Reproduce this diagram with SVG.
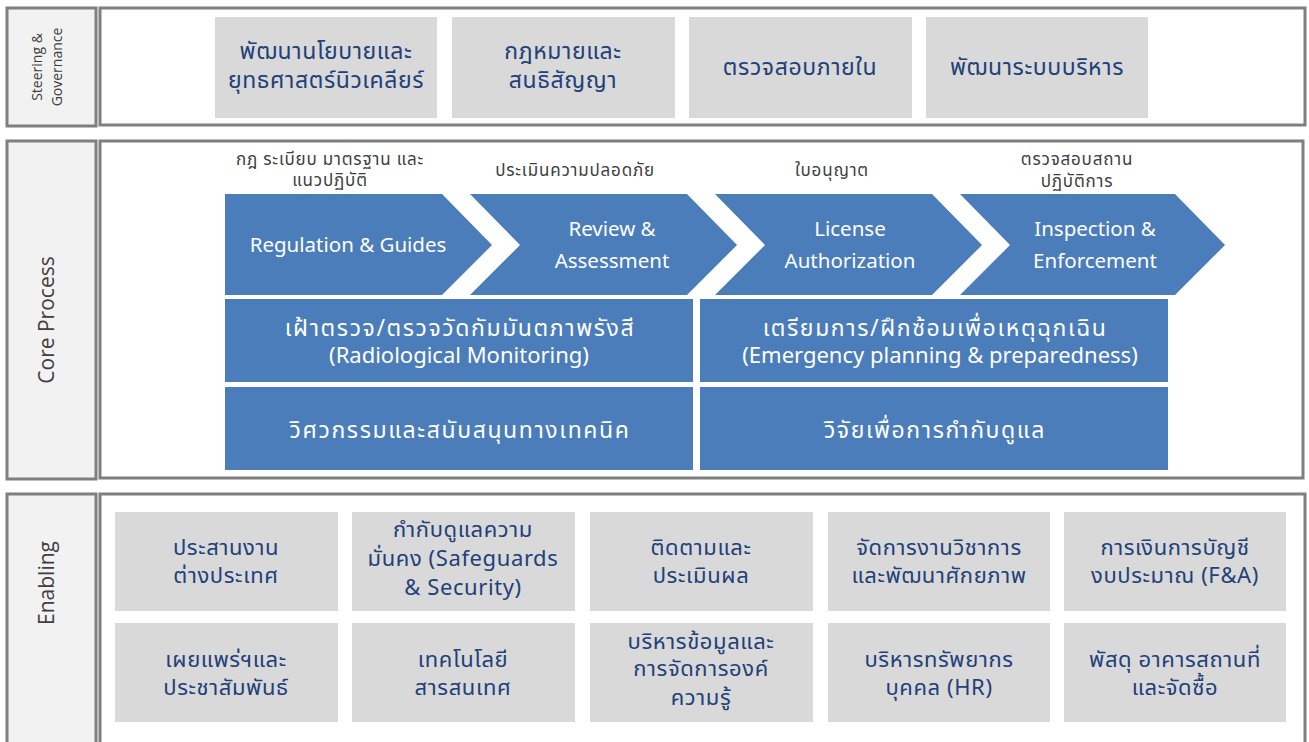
<svg xmlns="http://www.w3.org/2000/svg" width="1309" height="742" viewBox="0 0 1309 742">
<style>
.lbl{fill:#f2f2f2;stroke:#7f7f7f;stroke-width:3}
.pane{fill:#ffffff;stroke:#7f7f7f;stroke-width:3}
.gray{fill:#d9d9d9}
.blue{fill:#4a7dba}
.side{font-family:"Open Sans","Noto Sans",sans-serif;fill:#404040;text-anchor:middle}
.gt{font-family:"Noto Sans Thai","Noto Sans","DejaVu Sans",sans-serif;font-size:23px;letter-spacing:0.6px;fill:#22407a;text-anchor:middle}
.et{font-family:"Noto Sans Thai","Noto Sans","DejaVu Sans",sans-serif;font-size:22px;letter-spacing:0.6px;fill:#22407a;text-anchor:middle}
.cap{font-family:"Noto Sans Thai","Noto Sans","DejaVu Sans",sans-serif;font-size:17px;letter-spacing:0.8px;fill:#404040;text-anchor:middle}
.wt{font-family:"Noto Sans","Noto Sans Thai",sans-serif;font-size:20.5px;fill:#ffffff;text-anchor:middle}
.bt{font-family:"Noto Sans","Noto Sans Thai",sans-serif;font-size:22px;fill:#ffffff;text-anchor:middle}
.btt{font-family:"Noto Sans Thai","Noto Sans",sans-serif;font-size:23px;letter-spacing:1.6px;fill:#ffffff;text-anchor:middle}
</style>

<g id="steering">
<rect class="lbl" x="7" y="8" width="89" height="118"/>
<rect class="pane" x="100" y="8" width="1205" height="117"/>
<text class="side" font-size="14" transform="translate(42,67) rotate(-90)">Steering &amp;</text>
<text class="side" font-size="14" transform="translate(62,67) rotate(-90)">Governance</text>
</g>
<g id="g1"><rect class="gray" x="215" y="17" width="222" height="101"/>
<text class="gt" x="326" y="59">พัฒนานโยบายและ</text><text class="gt" x="326" y="88">ยุทธศาสตร์นิวเคลียร์</text></g>
<g id="g2"><rect class="gray" x="452" y="17" width="223" height="101"/>
<text class="gt" x="563" y="59">กฎหมายและ</text><text class="gt" x="563" y="88">สนธิสัญญา</text></g>
<g id="g3"><rect class="gray" x="689" y="17" width="223" height="101"/>
<text class="gt" x="800" y="75">ตรวจสอบภายใน</text></g>
<g id="g4"><rect class="gray" x="926" y="17" width="222" height="101"/>
<text class="gt" x="1037" y="75">พัฒนาระบบบริหาร</text></g>

<g id="core">
<rect class="lbl" x="7" y="141" width="89" height="338"/>
<rect class="pane" x="100" y="141" width="1203" height="337"/>
<text class="side" font-size="21" transform="translate(54,320) rotate(-90)">Core Process</text>
</g>

<g id="c1">
<text class="cap" x="330" y="165">กฎ ระเบียบ มาตรฐาน และ</text><text class="cap" x="330" y="186">แนวปฏิบัติ</text>
<polygon class="blue" points="225,194 442,194 492,245 442,295 225,295"/>
<text class="wt" x="348" y="252">Regulation &amp; Guides</text>
</g>
<g id="c2">
<text class="cap" x="575" y="176">ประเมินความปลอดภัย</text>
<polygon class="blue" points="470,194 687,194 737,245 687,295 470,295 520,245"/>
<text class="wt" x="612" y="236">Review &amp;</text><text class="wt" x="612" y="268">Assessment</text>
</g>
<g id="c3">
<text class="cap" x="832" y="176">ใบอนุญาต</text>
<polygon class="blue" points="715,194 932,194 982,245 932,295 715,295 765,245"/>
<text class="wt" x="850" y="236">License</text><text class="wt" x="850" y="268">Authorization</text>
</g>
<g id="c4">
<text class="cap" x="1077" y="165">ตรวจสอบสถาน</text><text class="cap" x="1077" y="187">ปฏิบัติการ</text>
<polygon class="blue" points="960,194 1175,194 1225,245 1175,295 960,295 1010,245"/>
<text class="wt" x="1095" y="236">Inspection &amp;</text><text class="wt" x="1095" y="268">Enforcement</text>
</g>

<g id="b1"><rect class="blue" x="225" y="299" width="468" height="83"/>
<text class="btt" x="460" y="336">เฝ้าตรวจ/ตรวจวัดกัมมันตภาพรังสี</text><text class="bt" x="459" y="363">(Radiological Monitoring)</text></g>
<g id="b2"><rect class="blue" x="700" y="299" width="468" height="83"/>
<text class="btt" x="935" y="336">เตรียมการ/ฝึกซ้อมเพื่อเหตุฉุกเฉิน</text><text class="bt" x="940" y="363">(Emergency planning &amp; preparedness)</text></g>
<g id="b3"><rect class="blue" x="225" y="387" width="468" height="83"/>
<text class="btt" x="460" y="438">วิศวกรรมและสนับสนุนทางเทคนิค</text></g>
<g id="b4"><rect class="blue" x="700" y="387" width="468" height="83"/>
<text class="btt" x="935" y="438">วิจัยเพื่อการกำกับดูแล</text></g>

<g id="enabling">
<rect class="lbl" x="7" y="494" width="89" height="262"/>
<rect class="pane" x="100" y="494" width="1205" height="262"/>
<text class="side" font-size="21" transform="translate(54,583) rotate(-90)">Enabling</text>
</g>
<g id="e1"><rect class="gray" x="115" y="512" width="223" height="99"/>
<text class="et" x="226" y="555">ประสานงาน</text><text class="et" x="226" y="583">ต่างประเทศ</text></g>
<g id="e2"><rect class="gray" x="352" y="512" width="223" height="99"/>
<text class="et" x="463" y="537">กำกับดูแลความ</text><text class="et" x="463" y="566">มั่นคง (Safeguards</text><text class="et" x="463" y="595">&amp; Security)</text></g>
<g id="e3"><rect class="gray" x="590" y="512" width="223" height="99"/>
<text class="et" x="701" y="555">ติดตามและ</text><text class="et" x="701" y="583">ประเมินผล</text></g>
<g id="e4"><rect class="gray" x="828" y="512" width="222" height="99"/>
<text class="et" x="939" y="555">จัดการงานวิชาการ</text><text class="et" x="939" y="583">และพัฒนาศักยภาพ</text></g>
<g id="e5"><rect class="gray" x="1064" y="512" width="222" height="99"/>
<text class="et" x="1175" y="555">การเงินการบัญชี</text><text class="et" x="1175" y="583">งบประมาณ (F&amp;A)</text></g>
<g id="e6"><rect class="gray" x="115" y="623" width="223" height="99"/>
<text class="et" x="226" y="667">เผยแพร่ฯและ</text><text class="et" x="226" y="695">ประชาสัมพันธ์</text></g>
<g id="e7"><rect class="gray" x="352" y="623" width="223" height="99"/>
<text class="et" x="463" y="667">เทคโนโลยี</text><text class="et" x="463" y="695">สารสนเทศ</text></g>
<g id="e8"><rect class="gray" x="590" y="623" width="223" height="99"/>
<text class="et" x="701" y="649">บริหารข้อมูลและ</text><text class="et" x="701" y="676">การจัดการองค์</text><text class="et" x="701" y="705">ความรู้</text></g>
<g id="e9"><rect class="gray" x="828" y="623" width="222" height="99"/>
<text class="et" x="939" y="667">บริหารทรัพยากร</text><text class="et" x="939" y="695">บุคคล (HR)</text></g>
<g id="e10"><rect class="gray" x="1064" y="623" width="222" height="99"/>
<text class="et" x="1175" y="667">พัสดุ อาคารสถานที่</text><text class="et" x="1175" y="695">และจัดซื้อ</text></g>

<g id="connectors"></g>
</svg>
